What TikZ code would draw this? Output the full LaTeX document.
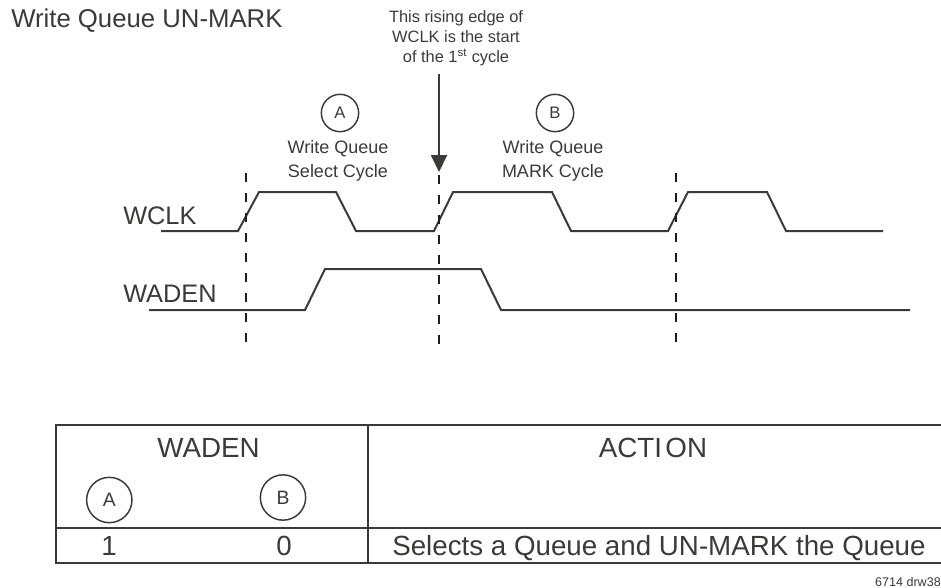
\documentclass[tikz,border=0pt]{standalone}
\usepackage{fontspec}
\setmainfont{Liberation Sans}
\usetikzlibrary{arrows.meta}
\definecolor{ink}{RGB}{58,58,54}
\definecolor{guideink}{RGB}{30,30,30}
\begin{document}
\begin{tikzpicture}[x=0.75pt,y=-0.75pt,
  every node/.style={inner sep=0pt, text=ink},
  sig/.style={draw=ink, line width=1.5pt, line join=miter},
  guide/.style={draw=guideink, line width=2.1pt, dash pattern=on 6.75pt off 8.25pt},
  tblthick/.style={draw=ink, line width=1.6pt},
  tblthin/.style={draw=ink, line width=1pt},
  tag/.style={circle, draw=ink, line width=1.1pt, minimum size=28pt, font=\fontsize{12.5}{14}\selectfont},
  bigtag/.style={circle, draw=ink, line width=1.1pt, minimum size=34pt, font=\fontsize{14.5}{16}\selectfont},
  lbl/.style={font=\fontsize{19}{23}\selectfont},
  cyc/.style={align=center, font=\fontsize{13.5}{18}\selectfont},
  tbltxt/.style={font=\fontsize{20.8}{24}\selectfont}
]
\useasboundingbox (0,0) rectangle (941,588);

% title
\node[anchor=base west, font=\fontsize{19.3}{23}\selectfont] (title) at (11,27.7) {Write Queue UN-MARK};

% note and arrow
\node[align=center, font=\fontsize{12.3}{15}\selectfont] (note) at (456,38.5)
  {This rising edge of\\WCLK is the start\\of the 1\textsuperscript{st} cycle};
\coordinate (arrtop) at (439,74);
\coordinate (arrtip) at (439,172);
\draw[draw=ink, line width=1.5pt, -{Triangle[length=12.75pt,width=12pt]}] (arrtop) -- (arrtip);

% cycle markers
\node[tag] (cA) at (340,113) {A};
\node[tag] (cB) at (555,113) {B};
\node[cyc] (selA) at (338,160.4) {Write Queue\\Select Cycle};
\node[cyc] (markB) at (553,160.4) {Write Queue\\MARK Cycle};

% signal labels
\node[lbl, anchor=base west] (wclk) at (123,224) {WCLK};
\node[lbl, anchor=base west] (waden) at (123,302) {WADEN};

% waveforms
\draw[sig] (161,231) -- (238,231) -- (259,192) -- (336,192) -- (356,231) -- (434,231)
  -- (453,192) -- (552,192) -- (571,231) -- (668,231) -- (688,192) -- (767,192)
  -- (786,231) -- (883,231);
\draw[sig] (149,310) -- (305,310) -- (325,269) -- (481,269) -- (501,310) -- (910,310);

% guides
\draw[guide] (246,173) -- (246,347);
\draw[guide] (439,175) -- (439,347);
\draw[guide] (676,173) -- (676,347);

% table
\draw[tblthick] (941,425) -- (56,425) -- (56,563) -- (941,563);
\draw[tblthin] (56,528) -- (941,528);
\draw[tblthick] (368,425) -- (368,563);

\node[tbltxt, anchor=base] (hwaden) at (208.5,457) {WADEN};
\node[tbltxt, anchor=base] (haction) at (653,457) {ACTI\hspace{0.12em}ON};
\node[bigtag] (tA) at (109.3,500) {A};
\node[bigtag] (tB) at (283,497.5) {B};
\node[tbltxt, anchor=base] (v1) at (109,555) {1};
\node[tbltxt, anchor=base] (v0) at (284,555) {0};
\node[tbltxt, anchor=base west] (act) at (392,555) {Selects a Queue and UN-MARK the Queue};

\node[anchor=base east, font=\fontsize{9.4}{11}\selectfont] (drw) at (941,586) {6714 drw38};
\end{tikzpicture}
\end{document}
